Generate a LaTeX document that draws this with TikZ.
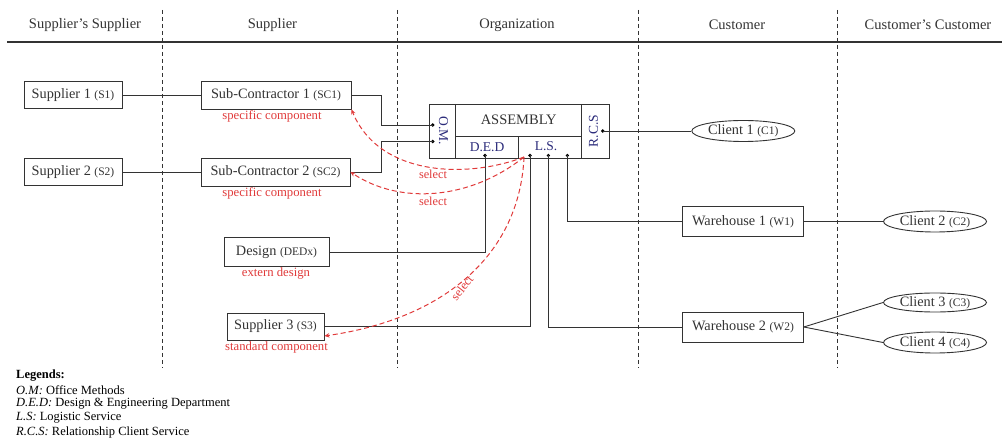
\documentclass[tikz,border=0pt]{standalone}
\usepackage{fontspec}
\setmainfont{Liberation Serif}
\usetikzlibrary{shapes.geometric,arrows.meta}
\definecolor{ln}{HTML}{333333}
\definecolor{rd}{HTML}{E03A3A}
\definecolor{nv}{HTML}{2B2B7A}
\newcommand\myab[1]{{\fontsize{11.5}{13}\selectfont(#1)}}
\begin{document}
\begin{tikzpicture}[x=1pt,y=-1pt,
  box/.style={draw=ln, line width=0.9pt, inner sep=0pt, text=ln, font=\fontsize{14.3}{16}\selectfont},
  ell/.style={ellipse, draw=ln, line width=0.9pt, minimum width=103pt, minimum height=21pt, inner sep=0pt, text=ln, font=\fontsize{14.3}{16}\selectfont},
  wire/.style={draw=ln, line width=0.9pt},
  selarr/.style={draw=rd, dash pattern=on 5pt off 3pt, line width=1pt, -{Stealth[length=5pt,width=4.5pt]}},
  note/.style={text=rd, font=\fontsize{12.7}{14}\selectfont, inner sep=0pt},
  head/.style={text=ln, font=\fontsize{14.5}{16}\selectfont, inner sep=0pt},
  sepline/.style={draw=ln, dash pattern=on 4pt off 3pt, line width=0.9pt},
  cell/.style={text=nv, font=\fontsize{13.5}{15}\selectfont, inner sep=0pt},
  leg/.style={text=black, font=\fontsize{12.5}{14}\selectfont, inner sep=0pt, anchor=west}]
\useasboundingbox (0,0) rectangle (1002,438);

% header
\node[head] (h1) at (85,25) {Supplier's Supplier};
\node[head] (h2) at (272.5,25) {Supplier};
\node[head] (h3) at (517,25) {Organization};
\node[head] (h4) at (737,25) {Customer};
\node[head] (h5) at (928,25) {Customer's Customer};
\draw[draw=ln, line width=1.1pt] (7,42) -- (1002,42);
\foreach \x in {162,397,638,837} \draw[sepline] (\x,10) -- (\x,368);

% left nodes
\node[box, minimum width=98pt, minimum height=27pt] (S1) at (73,95) {Supplier 1 \myab{S1}};
\node[box, minimum width=98pt, minimum height=27pt] (S2) at (73,172) {Supplier 2 \myab{S2}};
\node[box, minimum width=150pt, minimum height=28pt] (SC1) at (276,95) {Sub-Contractor 1 \myab{SC1}};
\node[box, minimum width=149pt, minimum height=28pt] (SC2) at (275.5,172) {Sub-Contractor 2 \myab{SC2}};
\node[box, minimum width=105pt, minimum height=29pt] (D) at (276.5,252) {Design \myab{DEDx}};
\node[box, minimum width=97pt, minimum height=27pt] (S3) at (275.5,326.5) {Supplier 3 \myab{S3}};
\node[note] (n1) at (272,116) {specific component};
\node[note] (n2) at (272,193) {specific component};
\node[note] (n3) at (276,273) {extern design};
\node[note] (n4) at (276.5,347) {standard component};

% assembly
\node[draw=ln, line width=0.9pt, minimum width=179.7pt, minimum height=54.3pt, inner sep=0pt] (asm) at (519.3,131.2) {};
\draw[wire] (455.7,104) -- (455.7,158.3) (581.7,104) -- (581.7,158.3)
  (455.7,136.7) -- (581.7,136.7) (518.3,136.7) -- (518.3,158.3);
\node[text=ln, font=\fontsize{14.5}{16}\selectfont] (asmt) at (518.7,120) {ASSEMBLY};
\node[cell, rotate=-90] (om) at (443.5,131) {O.M.};
\node[cell, rotate=90] (rcs) at (593.5,131) {R.C.S};
\node[cell] (ded) at (487,147.5) {D.E.D};
\node[cell] (ls) at (546,146.5) {L.S.};

\coordinate (om1) at (432.7,125);
\coordinate (om2) at (432.7,141.5);
\coordinate (dd) at (485,155.5);
\coordinate (ls1) at (530,155.5);
\coordinate (ls2) at (548.3,155.5);
\coordinate (ls3) at (567.3,155.5);
\coordinate (rc) at (602.7,131);
\coordinate (sel) at (524,157);
\foreach \p in {om1,om2,dd,ls1,ls2,ls3,rc} \fill[black] (\p) circle (1.8pt);

% right nodes
\node[box, minimum width=120.6pt, minimum height=30.6pt] (W1) at (743,221.5) {Warehouse 1 \myab{W1}};
\node[box, minimum width=120.6pt, minimum height=30pt] (W2) at (743,327) {Warehouse 2 \myab{W2}};
\node[ell] (C1) at (743.3,131) {Client 1 \myab{C1}};
\node[ell] (C2) at (935,221.5) {Client 2 \myab{C2}};
\node[ell, minimum height=19pt] (C3) at (935,302.5) {Client 3 \myab{C3}};
\node[ell] (C4) at (935,342.5) {Client 4 \myab{C4}};

% connectors
\draw[wire] (S1.east) -- (SC1.west);
\draw[wire] (S2.east) -- (SC2.west);
\draw[wire] (SC1.east) -- (381.7,95) |- (om1);
\draw[wire] (SC2.east) -- (381.7,172) |- (om2);
\draw[wire] (dd) |- (D.east);
\draw[wire] (ls1) |- (S3.east);
\draw[wire] (ls2) |- (W2.west);
\draw[wire] (ls3) |- (W1.west);
\draw[wire] (rc) -- (C1.west);
\draw[wire] (W1.east) -- (C2.west);
\draw[wire] (W2.east) -- (C3.west);
\draw[wire] (W2.east) -- (C4.west);

% select arrows
\draw[selarr] (sel) .. controls (470,178) and (380,178) .. (SC1.south east);
\draw[selarr] (sel) .. controls (470,200) and (400,205) .. (SC2.east);
\draw[selarr] (sel) .. controls (520,250) and (450,318) .. ([yshift=-9.5pt]S3.east);
\node[note, font=\fontsize{12.3}{14}\selectfont] (s1) at (433,174) {select};
\node[note, font=\fontsize{12.3}{14}\selectfont] (s2) at (433,201) {select};
\node[note, font=\fontsize{12.3}{14}\selectfont, rotate=52] (s3) at (462,288) {select};

% legend
\node[leg, font=\bfseries\fontsize{12.5}{14}\selectfont] (l0) at (16,376) {Legends:};
\node[leg] (l1) at (16,390) {\textit{O.M:} Office Methods};
\node[leg] (l2) at (16,404) {\textit{D.E.D:} Design \& Engineering Department};
\node[leg] (l3) at (16,418) {\textit{L.S:} Logistic Service};
\node[leg] (l4) at (16,432) {\textit{R.C.S:} Relationship Client Service};
\end{tikzpicture}
\end{document}
